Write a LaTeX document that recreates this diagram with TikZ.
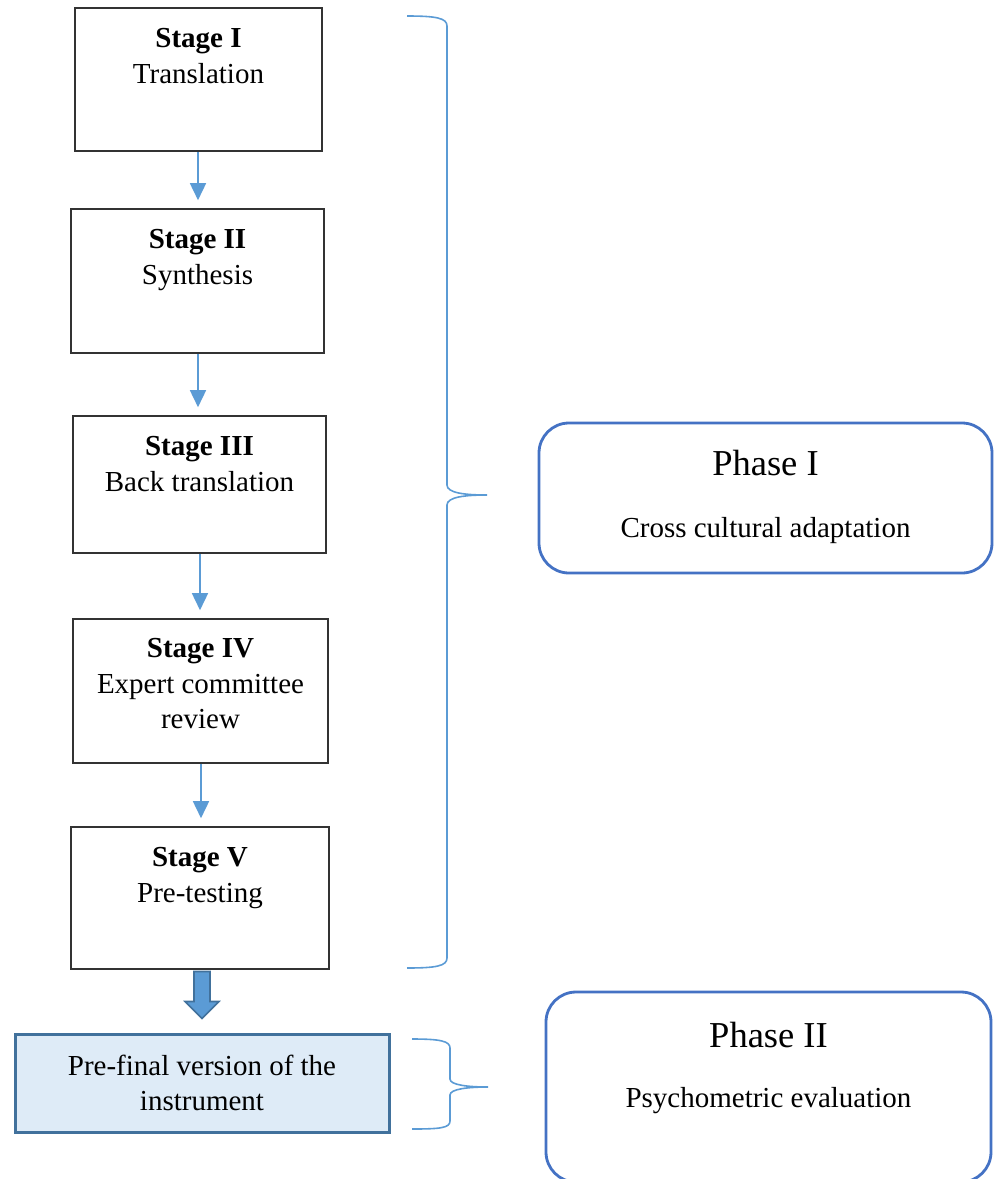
\documentclass[tikz,border=0pt]{standalone}
\usepackage{fontspec}
\setmainfont{Liberation Serif}
\usetikzlibrary{arrows.meta, positioning, calc}
\definecolor{FlowBlue}{HTML}{5B9BD5}
\definecolor{EdgeBlue}{HTML}{41719C}
\definecolor{PhaseBlue}{HTML}{4472C4}
\definecolor{PaleBlue}{HTML}{DEEBF7}

\begin{document}
\begin{tikzpicture}[x=1pt, y=-1pt, >=Stealth,
        stagebox/.style={rectangle, draw=black!80, line width=1.6pt, fill=white, inner sep=0pt},
        stagetext/.style={anchor=north, align=center, inner sep=0pt, font=\fontsize{29}{35.5}\selectfont},
        prebox/.style={rectangle, draw=EdgeBlue, line width=3pt, fill=PaleBlue, align=center, minimum width=374pt, minimum height=98pt, font=\fontsize{29}{35.5}\selectfont},
        phasebox/.style={rectangle, rounded corners=30pt, draw=PhaseBlue, line width=2.8pt, fill=white, inner sep=0pt},
        phasetitle/.style={anchor=north, inner sep=0pt, font=\fontsize{36.5}{44}\selectfont},
        phasesub/.style={anchor=base, inner sep=0pt, font=\fontsize{29}{35.5}\selectfont},
        flow/.style={->, line width=1.6pt, FlowBlue, shorten >=8pt, >={Triangle[width=16pt, length=17pt]}},
        bigarrow/.style={draw=EdgeBlue, line width=1.6pt, fill=FlowBlue, line join=miter},
        bracket/.style={draw=FlowBlue, line width=1.6pt}]

        \useasboundingbox (0,0) rectangle (998,1179);

        % stages
        \node[stagebox, minimum width=247pt, minimum height=143pt] (s1) at (198.5,79.5) {};
        \node[stagebox, minimum width=253pt, minimum height=144pt] (s2) at (197.5,281) {};
        \node[stagebox, minimum width=253pt, minimum height=137pt] (s3) at (199.5,484.5) {};
        \node[stagebox, minimum width=255pt, minimum height=144pt] (s4) at (200.5,691) {};
        \node[stagebox, minimum width=258pt, minimum height=142pt] (s5) at (200,898) {};

        \node[stagetext] (s1t) at ([yshift=-21pt]s1.north) {\textbf{Stage I}\\Translation};
        \node[stagetext] (s2t) at ([yshift=-21pt]s2.north) {\textbf{Stage II}\\Synthesis};
        \node[stagetext] (s3t) at ([yshift=-21pt]s3.north) {\textbf{Stage III}\\Back translation};
        \node[stagetext] (s4t) at ([yshift=-20pt]s4.north) {\textbf{Stage IV}\\Expert committee\\review};
        \node[stagetext] (s5t) at ([yshift=-21pt]s5.north) {\textbf{Stage V}\\Pre-testing};

        \draw[flow] ([xshift=-0.5pt]s1.south) -- ([xshift=-0.5pt]s1.south |- s2.north);
        \draw[flow] ([xshift=0.5pt]s2.south) -- ([xshift=0.5pt]s2.south |- s3.north);
        \draw[flow] ([xshift=0.5pt]s3.south) -- ([xshift=0.5pt]s3.south |- s4.north);
        \draw[flow] ([xshift=0.5pt]s4.south) -- ([xshift=0.5pt]s4.south |- s5.north);

        % pre-final version
        \node[prebox] (pre) at (202,1083) {Pre-final version of the\\instrument};

        \draw[bigarrow] ($(pre.north)+(-8,-61)$) -- ++(16,0) -- ++(0,30) -- ++(9,0)
            -- ($(pre.north)+(0,-14)$) -- ($(pre.north)+(-17,-31)$) -- ++(9,0) -- cycle;

        % phases
        \node[phasebox, minimum width=453pt, minimum height=150pt] (ph1) at (765.5,498) {};
        \node[phasetitle] (ph1t) at ([yshift=-28pt]ph1.north) {Phase I};
        \node[phasesub] (ph1s) at ([yshift=-62pt]ph1t.base) {Cross cultural adaptation};

        \node[phasebox, minimum width=445pt, minimum height=190pt] (ph2) at (768.5,1087) {};
        \node[phasetitle] (ph2t) at ([yshift=-31pt]ph2.north) {Phase II};
        \node[phasesub] (ph2s) at ([yshift=-60pt]ph2t.base) {Psychometric evaluation};

        % braces
        \draw[bracket] (407,16) .. controls (436,16) and (447,18) .. (447,26) -- (447,485)
            .. controls (447,493) and (465,495) .. (487,495)
            .. controls (465,495) and (447,497) .. (447,505) -- (447,958)
            .. controls (447,966) and (436,968) .. (407,968);
        \draw[bracket] (412,1039) .. controls (440,1039) and (450,1041) .. (450,1048) -- (450,1079)
            .. controls (450,1085) and (468,1087) .. (488,1087)
            .. controls (468,1087) and (450,1089) .. (450,1095) -- (450,1121)
            .. controls (450,1128) and (440,1129) .. (412,1129);
    \end{tikzpicture}
\end{document}
